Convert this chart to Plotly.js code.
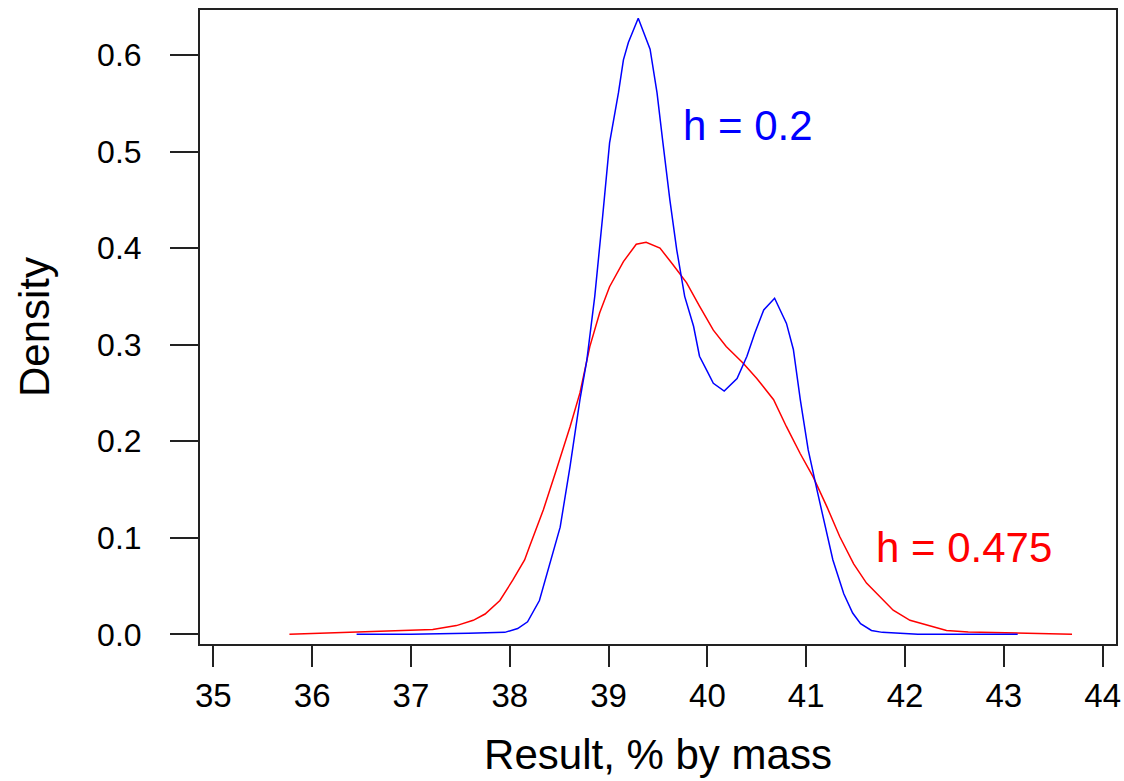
<!DOCTYPE html>
<html>
<head>
<meta charset="utf-8">
<script src="https://cdn.plot.ly/plotly-3.0.1.min.js"></script>
<style>html,body{margin:0;padding:0;background:#fff;}#chart{width:1124px;height:781px;}</style>
</head>
<body>
<div id="chart"></div>
<script>
// h = 0.2 kernel density estimate (blue)
const blueX = [36.45, 37.0, 37.58, 37.95, 38.08, 38.18, 38.30, 38.40, 38.51, 38.61, 38.71, 38.78, 38.86, 38.94, 39.01, 39.10, 39.15, 39.20, 39.30, 39.42, 39.49, 39.55, 39.62, 39.69, 39.77, 39.86, 39.92, 40.00, 40.06, 40.17, 40.30, 40.40, 40.48, 40.57, 40.68, 40.80, 40.87, 40.94, 41.02, 41.11, 41.17, 41.27, 41.38, 41.47, 41.55, 41.66, 41.77, 42.13, 42.6, 43.14];
const blueY = [0.000, 0.000, 0.001, 0.002, 0.006, 0.013, 0.035, 0.070, 0.111, 0.174, 0.243, 0.284, 0.350, 0.433, 0.509, 0.561, 0.595, 0.613, 0.638, 0.606, 0.561, 0.509, 0.450, 0.398, 0.350, 0.319, 0.288, 0.272, 0.260, 0.252, 0.265, 0.288, 0.312, 0.336, 0.348, 0.322, 0.295, 0.243, 0.191, 0.149, 0.122, 0.077, 0.042, 0.022, 0.011, 0.004, 0.002, 0.000, 0.000, 0.000];

// h = 0.475 kernel density estimate (red)
const redX = [35.77, 36.45, 36.95, 37.22, 37.46, 37.63, 37.75, 37.90, 38.03, 38.15, 38.20, 38.34, 38.47, 38.61, 38.71, 38.81, 38.91, 39.01, 39.15, 39.28, 39.38, 39.52, 39.65, 39.79, 39.92, 40.06, 40.19, 40.36, 40.50, 40.67, 40.80, 40.94, 41.07, 41.21, 41.34, 41.48, 41.61, 41.75, 41.88, 42.05, 42.29, 42.42, 42.64, 43.14, 43.69];
const redY = [0.000, 0.002, 0.0035, 0.005, 0.009, 0.0145, 0.021, 0.035, 0.056, 0.077, 0.091, 0.129, 0.170, 0.215, 0.250, 0.298, 0.333, 0.360, 0.386, 0.404, 0.406, 0.400, 0.383, 0.364, 0.340, 0.315, 0.298, 0.281, 0.265, 0.243, 0.215, 0.187, 0.163, 0.132, 0.101, 0.073, 0.053, 0.039, 0.025, 0.0145, 0.0076, 0.004, 0.0024, 0.001, 0.000];

const xTickVals = [35, 36, 37, 38, 39, 40, 41, 42, 43, 44];
const yTickVals = [0.0, 0.1, 0.2, 0.3, 0.4, 0.5, 0.6];
const yTickText = ["0.0", "0.1", "0.2", "0.3", "0.4", "0.5", "0.6"];

const blueLabel = "h = 0.2";
const redLabel = "h = 0.475";
const xTitle = "Result, % by mass";
const yTitle = "Density";

const FONT = "Liberation Sans, Arial, sans-serif";

const traces = [
  {x: redX, y: redY, type: "scatter", mode: "lines", line: {color: "#ff0000", width: 1.5}, hoverinfo: "skip"},
  {x: blueX, y: blueY, type: "scatter", mode: "lines", line: {color: "#0000ff", width: 1.5}, hoverinfo: "skip"}
];

const axisCommon = {
  showgrid: false, zeroline: false, showline: true, mirror: true,
  linewidth: 2, linecolor: "#222", ticks: "outside", tickwidth: 2, tickcolor: "#222",
  automargin: false
};

const layout = {
  width: 1124, height: 781,
  margin: {l: 200, r: 8, t: 10, b: 137},
  paper_bgcolor: "#fff", plot_bgcolor: "#fff",
  showlegend: false,
  font: {family: FONT, color: "#000"},
  xaxis: Object.assign({}, axisCommon, {
    range: [34.865, 44.135], tickmode: "array", tickvals: xTickVals,
    ticklen: 21, tickfont: {size: 33, family: FONT, color: "#000"},
    ticklabelstandoff: 0,
    title: {text: xTitle, font: {size: 42, family: FONT, color: "#000"}, standoff: 27}
  }),
  yaxis: Object.assign({}, axisCommon, {
    range: [-0.01005, 0.6466], tickmode: "array", tickvals: yTickVals, ticktext: yTickText,
    ticklen: 28, tickfont: {size: 32, family: FONT, color: "#000"},
    ticklabelstandoff: 22,
    title: {text: yTitle, font: {size: 42, family: FONT, color: "#000"}, standoff: 34}
  }),
  annotations: [
    {x: 39.73, y: 0.527, xref: "x", yref: "y", text: blueLabel, showarrow: false,
     xanchor: "left", yanchor: "middle", font: {size: 42, family: FONT, color: "#0000ff"}},
    {x: 41.69, y: 0.0897, xref: "x", yref: "y", text: redLabel, showarrow: false,
     xanchor: "left", yanchor: "middle", font: {size: 42, family: FONT, color: "#ff0000"}}
  ]
};

Plotly.newPlot("chart", traces, layout, {staticPlot: true, displayModeBar: false});
</script>
</body>
</html>
